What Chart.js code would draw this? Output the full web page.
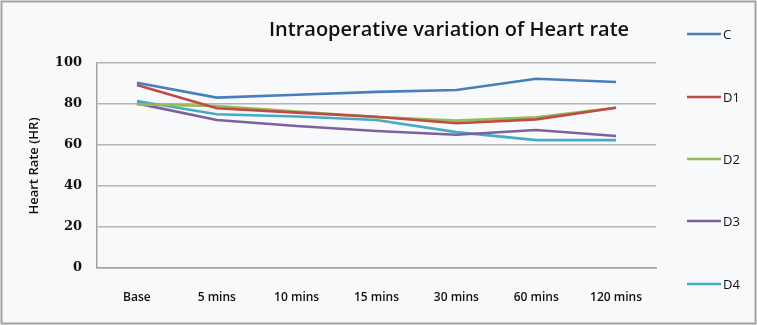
<!DOCTYPE html>
<html>
<head>
<meta charset="utf-8">
<script src="https://cdn.jsdelivr.net/npm/chart.js@4/dist/chart.umd.min.js"></script>
<style>
  html, body { margin: 0; padding: 0; background: #ffffff; }
  #wrap { position: relative; width: 757px; height: 325px; }
  canvas { display: block; }
</style>
</head>
<body>
<div id="wrap"><canvas id="chart" width="757" height="325"></canvas></div>
<script>
// Time points at which heart rate was recorded
const categories = ['Base', '5 mins', '10 mins', '15 mins', '30 mins', '60 mins', '120 mins'];

// Mean heart rate per group
const seriesC  = [90.4, 83.1, 84.5, 85.9, 86.8, 92.3, 90.7];
const seriesD1 = [89.3, 77.9, 75.8, 73.8, 70.6, 72.5, 78.2];
const seriesD2 = [79.8, 79.0, 76.3, 73.6, 71.9, 73.5, 78.2];
const seriesD3 = [80.3, 72.2, 69.3, 66.8, 65.0, 67.3, 64.4];
const seriesD4 = [81.5, 75.0, 73.9, 72.2, 66.3, 62.4, 62.4];

const seriesNames = ['C', 'D1', 'D2', 'D3', 'D4'];
const yTicks = [0, 20, 40, 60, 80, 100];
const titleText = 'Intraoperative variation of Heart rate';
const yTitleText = 'Heart Rate (HR)';

const colors = ['#4a7ebb', '#be4b48', '#98b954', '#7d60a0', '#46aac5'];
const allSeries = [seriesC, seriesD1, seriesD2, seriesD3, seriesD4];

const datasets = allSeries.map((values, i) => ({
  label: seriesNames[i],
  data: values,
  borderColor: colors[i],
  backgroundColor: colors[i],
  borderWidth: 2.6,
  pointRadius: 0,
  pointHoverRadius: 0,
  tension: 0,
  fill: false
}));

// Frame, title, axis title and the vertical legend on the right
const decor = {
  id: 'decor',
  beforeDraw(chart) {
    const ctx = chart.ctx;
    ctx.save();
    ctx.fillStyle = '#f8f9fb';
    ctx.fillRect(0, 0, chart.width, chart.height);
    ctx.strokeStyle = '#a3a3a3';
    ctx.lineWidth = 2;
    ctx.strokeRect(1.5, 1.5, chart.width - 3, chart.height - 3);
    ctx.restore();
  },
  afterDraw(chart) {
    const ctx = chart.ctx;
    ctx.save();
    ctx.fillStyle = '#111111';
    ctx.textBaseline = 'middle';
    ctx.textAlign = 'center';
    ctx.font = '600 20px "Open Sans"';
    ctx.fillText(titleText, 449, 30);

    ctx.translate(34, 166);
    ctx.rotate(-Math.PI / 2);
    ctx.font = '600 13px "Open Sans"';
    ctx.fillText(yTitleText, 0, 0);
    ctx.restore();

    ctx.save();
    const legendY = [34, 97, 159, 221, 284];
    chart.data.datasets.forEach((ds, i) => {
      const y = legendY[i];
      ctx.strokeStyle = ds.borderColor;
      ctx.lineWidth = 2.6;
      ctx.beginPath();
      ctx.moveTo(687, y);
      ctx.lineTo(721, y);
      ctx.stroke();
      ctx.fillStyle = '#111111';
      ctx.font = '13px "Open Sans"';
      ctx.textAlign = 'left';
      ctx.textBaseline = 'middle';
      ctx.fillText(ds.label, 723, y + 1);
    });
    ctx.restore();
  }
};

new Chart(document.getElementById('chart'), {
  type: 'line',
  data: { labels: categories, datasets },
  options: {
    responsive: false,
    animation: false,
    layout: { padding: { top: 63, right: 101, bottom: 0, left: 0 } },
    plugins: {
      legend: { display: false },
      title: { display: false },
      tooltip: { enabled: false }
    },
    scales: {
      x: {
        offset: true,
        grid: { display: false, drawTicks: false },
        border: { display: true, color: '#a3a3a3', width: 1.5 },
        ticks: {
          padding: 22,
          color: '#111111',
          font: { family: 'Open Sans', size: 12, weight: '600' },
          maxRotation: 0
        },
        afterFit(scale) { scale.height = 325 - 268; }
      },
      y: {
        min: 0,
        max: 100,
        afterBuildTicks(scale) { scale.ticks = yTicks.map(v => ({ value: v })); },
        grid: { color: '#b4b4b4', lineWidth: 1.5, drawTicks: false },
        border: { display: true, color: '#a3a3a3', width: 1.5 },
        ticks: {
          padding: 15,
          color: '#111111',
          font: { family: 'DejaVu Serif', size: 13, weight: 'bold' }
        },
        afterFit(scale) { scale.width = 97; }
      }
    }
  },
  plugins: [decor]
});
</script>
</body>
</html>
